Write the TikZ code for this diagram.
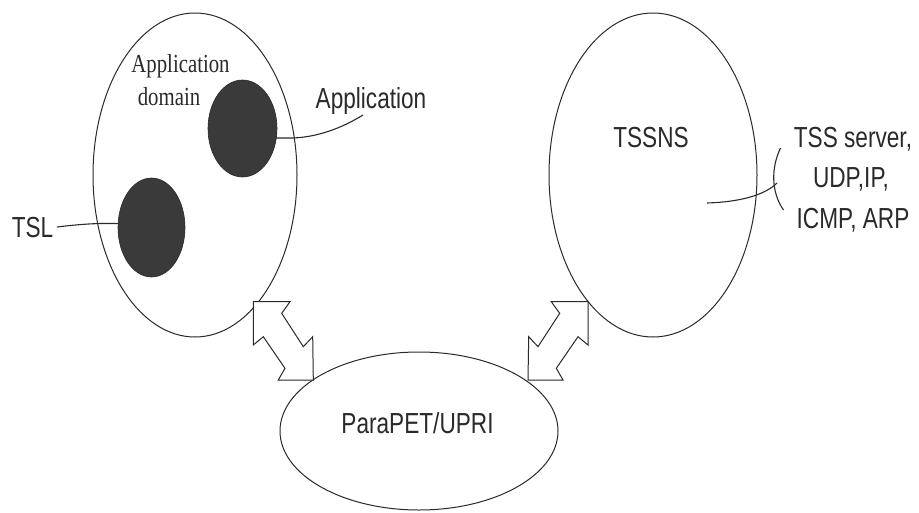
\documentclass[tikz,border=0pt]{standalone}
\usepackage{fontspec}
\usetikzlibrary{shapes.geometric}
\newfontfamily\sansf{Liberation Sans}[FakeStretch=0.78]
\newfontfamily\seriff{Liberation Serif}[FakeStretch=0.8]
\definecolor{ink}{HTML}{2A2A2A}
\definecolor{blob}{HTML}{3A3A3A}
\tikzset{
  outline/.style={ellipse, draw=ink, line width=1pt, inner sep=0pt},
  darkblob/.style={ellipse, draw=ink, fill=blob, line width=0.6pt, inner sep=0pt},
  slabel/.style={inner sep=0pt, anchor=base, text=ink, font=\sansf\fontsize{29}{34}\selectfont},
  rlabel/.style={inner sep=0pt, anchor=base, text=ink, font=\seriff\fontsize{26}{30}\selectfont},
  wire/.style={draw=ink, line width=1.1pt},
  blockarrow/.style={draw=ink, fill=white, line width=1pt, line join=miter}
}
\begin{document}
\begin{tikzpicture}[x=1pt,y=-1pt]
\useasboundingbox (0,0) rectangle (919,512);
\fill[white] (0,0) rectangle (919,512);
% big ellipses
\node[outline, minimum width=204pt, minimum height=324pt] (dom) at (195,175) {};
\node[outline, minimum width=208pt, minimum height=324pt] (tssns) at (653,175) {};
\node[outline, minimum width=278pt, minimum height=158pt] (para) at (419,431) {};
% connectors behind blobs
\node[slabel] (tsl) at (32.5,237) {TSL};
\node[slabel] (applab) at (371,108) {Application};
\coordinate (tslend) at (130,224);
\coordinate (append) at (363,115);
\coordinate (appstart) at (262,138);
\draw[wire] (57,227) .. controls (90,223) and (105,223) .. (tslend);
\draw[wire] (appstart) -- (293,138) .. controls (318,137) and (342,128) .. (append);
% dark blobs
\node[darkblob, minimum width=69pt, minimum height=97pt] (appb) at (242.5,128.5) {};
\node[darkblob, minimum width=67pt, minimum height=99pt] (tslb) at (151.5,227.5) {};
% texts
\node[rlabel] (ad1) at (180.5,72) {Application};
\node[rlabel] (ad2) at (169,105) {domain};
\node[slabel] (tssnslab) at (651,147) {TSSNS};
\node[slabel] (paralab) at (417.5,433) {ParaPET/UPRI};
\node[slabel] (srv1) at (853,147) {TSS server,};
\node[slabel] (srv2) at (851,187.5) {UDP,IP,};
\node[slabel] (srv3) at (853,228) {ICMP, ARP};
% TSSNS connector and bracket
\coordinate (tsstart) at (707,203);
\coordinate (brk) at (777,183);
\draw[wire] (tsstart) .. controls (740,202) and (765,195) .. (brk);
\draw[wire] (780.5,148) .. controls (771,168) and (771,192) .. (783.5,210);
% block arrows
\draw[blockarrow] (253.3,301.7) -- (290,301.7) -- (281.7,313.3) -- (303.3,346.7) -- (312.7,336.7) -- (313.3,380) -- (278.3,380) -- (285,368.3) -- (263.3,336.7) -- (253.3,345) -- cycle;
\draw[blockarrow] (588,301.7) -- (551.3,301.7) -- (559.7,313.3) -- (538,346.7) -- (528.7,336.7) -- (528,380) -- (563,380) -- (556.3,368.3) -- (578,336.7) -- (588,345) -- cycle;
\end{tikzpicture}
\end{document}
